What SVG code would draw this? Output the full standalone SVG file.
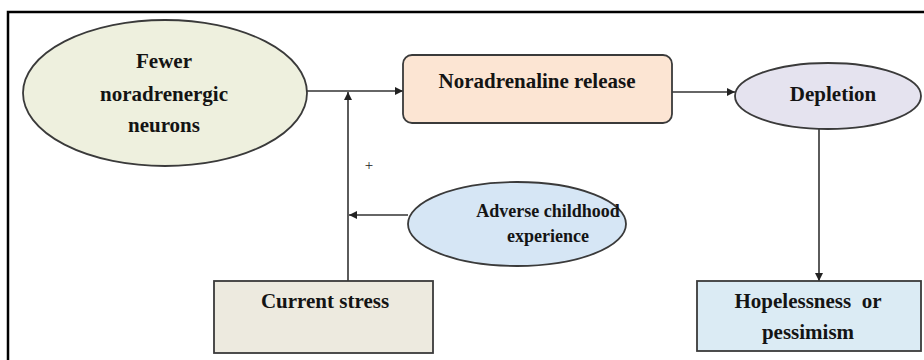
<svg xmlns="http://www.w3.org/2000/svg" width="924" height="360" viewBox="0 0 924 360">
<style>
.node{stroke:#3a3a3a;stroke-width:1.8}
.t{font-family:"Liberation Serif","Times New Roman",serif;font-weight:bold;font-size:21px;fill:#141414;text-anchor:middle}
.ts{font-size:18px}
.c{stroke:#333;stroke-width:1.6;fill:none}
</style>
<defs>
<marker id="ah" viewBox="0 0 10 10" refX="10" refY="5" markerWidth="8" markerHeight="8" markerUnits="userSpaceOnUse" orient="auto">
<path d="M0,0 L10,5 L0,10 z" fill="#222"/>
</marker>
</defs>
<rect x="0" y="0" width="924" height="360" fill="#fff"/>
<g id="frame" stroke="#000" stroke-width="2.5" fill="none">
<path d="M8,360 L8,12 L924,12"/>
</g>
<g id="connectors">
<path class="c" d="M307,91 L403,91" marker-end="url(#ah)"/>
<path class="c" d="M348,281 L348,92" marker-end="url(#ah)"/>
<path class="c" d="M408,215 L349,215" marker-end="url(#ah)"/>
<path class="c" d="M672,92 L735,92" marker-end="url(#ah)"/>
<path class="c" d="M819,129 L819,281" marker-end="url(#ah)"/>
<text x="369" y="170" font-family="Liberation Serif, serif" font-size="15" fill="#222" text-anchor="middle">+</text>
</g>
<g id="fewer">
<ellipse class="node" cx="165" cy="93" rx="142" ry="73" fill="#eef0de"/>
<text class="t" x="164" y="68">Fewer</text>
<text class="t" x="164" y="101">noradrenergic</text>
<text class="t" x="164" y="132">neurons</text>
</g>
<g id="noradrenaline">
<rect class="node" x="403" y="55" width="269" height="68" rx="9" fill="#fce5d3"/>
<text class="t" x="537" y="88">Noradrenaline release</text>
</g>
<g id="depletion">
<ellipse class="node" cx="828" cy="96" rx="93" ry="33" fill="#e5e3ef"/>
<text class="t" x="833" y="101">Depletion</text>
</g>
<g id="adverse">
<ellipse class="node" cx="517" cy="224" rx="109" ry="42" fill="#d6e6f5"/>
<text class="t ts" x="548" y="217">Adverse childhood</text>
<text class="t ts" x="548" y="242">experience</text>
</g>
<g id="current">
<rect class="node" x="214" y="281" width="219" height="72" fill="#edeadf"/>
<text class="t" x="325" y="308">Current stress</text>
</g>
<g id="hopelessness">
<rect class="node" x="697" y="281" width="224" height="70" fill="#dbebf4"/>
<text class="t" x="808" y="308" xml:space="preserve">Hopelessness  or</text>
<text class="t" x="808" y="339">pessimism</text>
</g>
</svg>
